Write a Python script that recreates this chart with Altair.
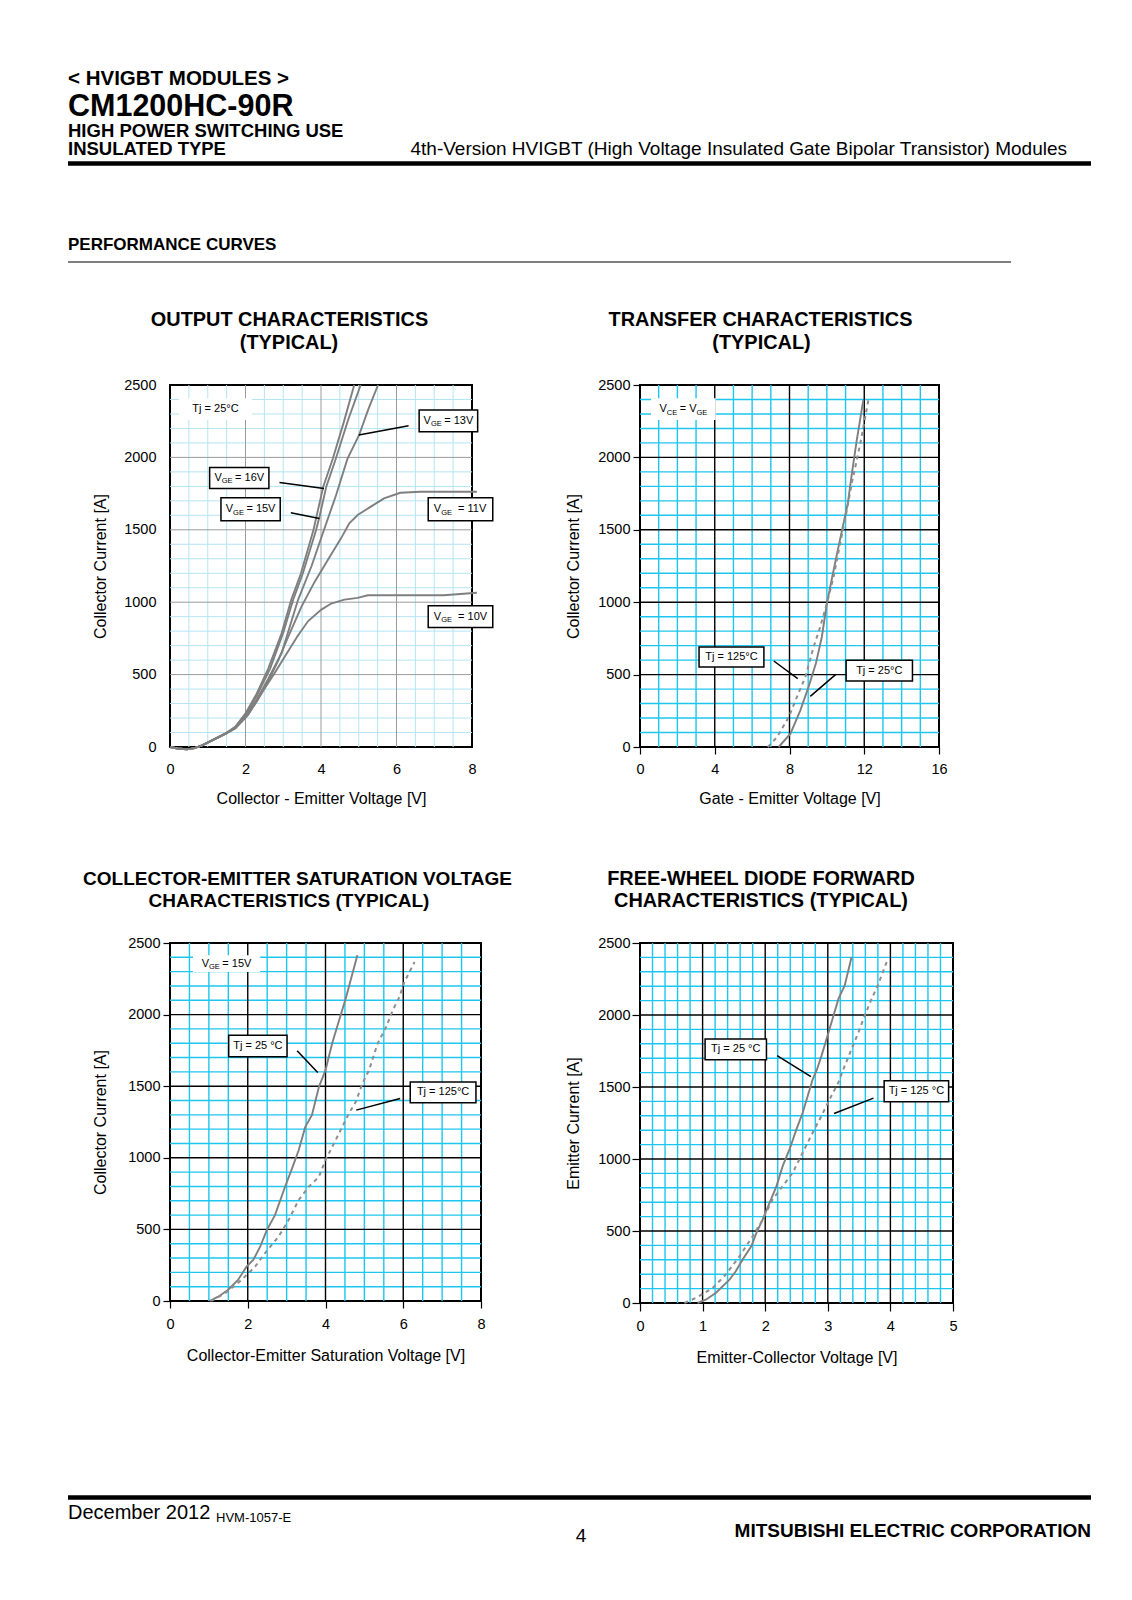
import altair as alt
import pandas as pd

FONT = "Liberation Sans"
CURVE = "#7f7f7f"
CURVE_HOT = "#8e8e8e"
CYAN = "#1cc6f0"
PALE = "#b4e4f4"
GRAYMAJ = "#9a9a9a"

# ---------------- values ----------------
# Output characteristics, Tj = 25 C  (VCE [V], IC [A])
OUT16_V = [0, 0.2, 0.45, 0.65, 0.85, 1.2, 1.46, 1.73, 2.0, 2.3, 2.6, 2.95, 3.21, 3.47, 3.8, 4.06, 4.31, 4.6, 4.88]
OUT16_I = [0, -10, -16, -8, 12, 58, 92, 140, 232, 370, 540, 780, 1015, 1200, 1499, 1798, 1989, 2240, 2500]
OUT15_V = [0, 0.2, 0.45, 0.65, 0.85, 1.2, 1.46, 1.73, 2.0, 2.3, 2.65, 3.0, 3.26, 3.52, 3.87, 3.96, 4.14, 4.39, 4.72, 5.05]
OUT15_I = [0, -10, -16, -8, 12, 58, 92, 138, 222, 355, 540, 790, 1015, 1200, 1499, 1590, 1798, 1989, 2260, 2500]
OUT13_V = [0, 0.2, 0.45, 0.65, 0.85, 1.2, 1.46, 1.73, 2.0, 2.3, 2.6, 2.96, 3.39, 3.75, 4.08, 4.4, 4.7, 5.01, 5.25, 5.51]
OUT13_I = [0, -10, -16, -8, 12, 56, 90, 134, 212, 330, 470, 650, 1015, 1250, 1500, 1740, 1990, 2155, 2330, 2500]
OUT11_V = [0, 0.2, 0.45, 0.65, 0.85, 1.2, 1.46, 1.73, 2.0, 2.3, 2.6, 2.87, 3.13, 3.48, 3.83, 4.18, 4.53, 4.75, 4.97, 5.32, 5.67, 6.1, 6.63, 8.13]
OUT11_I = [0, -10, -16, -8, 12, 56, 90, 132, 205, 315, 450, 600, 760, 968, 1140, 1291, 1441, 1545, 1602, 1660, 1717, 1756, 1763, 1763]
OUT10_V = [0, 0.2, 0.45, 0.65, 0.85, 1.2, 1.46, 1.73, 2.07, 2.42, 2.77, 3.03, 3.39, 3.66, 4.01, 4.27, 4.62, 4.97, 5.24, 7.25, 8.13]
OUT10_I = [0, -10, -16, -8, 12, 56, 88, 128, 222, 370, 510, 620, 770, 870, 949, 991, 1018, 1030, 1048, 1048, 1065]

# Transfer characteristics (VGE [V], IC [A])
TR25_V = [7.42, 8.05, 8.58, 9.02, 9.41, 9.73, 10.0, 10.36, 10.62, 10.89, 11.12, 11.35, 11.6, 11.95]
TR25_I = [0, 92, 253, 415, 576, 760, 991, 1221, 1382, 1544, 1682, 1900, 2120, 2396]
TR125_V = [6.84, 7.34, 7.96, 8.4, 8.85, 9.29, 9.64, 10.0, 10.36, 10.71, 11.07, 11.33, 11.6, 11.86, 12.22]
TR125_I = [0, 69, 207, 346, 484, 691, 829, 991, 1175, 1405, 1636, 1820, 1981, 2143, 2396]

# Collector-emitter saturation voltage (VCEsat [V], IC [A])
SAT25_V = [1.02, 1.24, 1.49, 1.75, 1.97, 2.14, 2.32, 2.49, 2.7, 2.96, 3.14, 3.31, 3.48, 3.65, 3.83, 4.0, 4.17, 4.35, 4.52, 4.6, 4.82]
SAT25_I = [0, 30, 77, 147, 240, 286, 379, 495, 600, 798, 926, 1053, 1216, 1298, 1495, 1612, 1798, 1960, 2112, 2193, 2414]
SAT125_V = [1.06, 1.41, 1.84, 2.19, 2.44, 2.79, 3.05, 3.31, 3.57, 3.83, 4.0, 4.26, 4.43, 4.6, 4.78, 4.95, 5.12, 5.34, 5.56, 5.73, 5.9, 6.03, 6.29]
SAT125_I = [0, 53, 147, 240, 333, 449, 565, 705, 798, 867, 984, 1123, 1216, 1309, 1391, 1519, 1612, 1798, 1914, 2030, 2123, 2228, 2367]

# Free-wheel diode forward characteristics (VEC [V], IE [A])
FWD25_V = [0.92, 1.05, 1.21, 1.43, 1.53, 1.64, 1.78, 1.86, 1.96, 2.07, 2.18, 2.28, 2.39, 2.5, 2.6, 2.68, 2.76, 2.82, 2.9, 2.98, 3.06, 3.17, 3.27, 3.38]
FWD25_I = [0, 23, 70, 162, 220, 302, 395, 487, 580, 696, 812, 952, 1068, 1207, 1323, 1439, 1555, 1613, 1718, 1834, 1950, 2112, 2205, 2403]
FWD125_V = [0.71, 0.89, 1.16, 1.37, 1.59, 1.8, 1.96, 2.12, 2.28, 2.44, 2.6, 2.76, 2.9, 3.03, 3.17, 3.25, 3.38, 3.49, 3.59, 3.7, 3.81, 3.94]
FWD125_I = [0, 35, 104, 197, 325, 464, 580, 720, 812, 905, 1045, 1184, 1300, 1416, 1532, 1625, 1764, 1880, 1996, 2112, 2217, 2368]

# ticks / grids
Y_TICKS = [0, 500, 1000, 1500, 2000, 2500]
Y_MINOR = [v for v in range(100, 2500, 100) if v % 500]
Y_MAJOR = [500, 1000, 1500, 2000]
P1_XTICKS = [0, 2, 4, 6, 8]
P2_XTICKS = [0, 4, 8, 12, 16]
P3_XTICKS = [0, 2, 4, 6, 8]
P4_XTICKS = [0, 1, 2, 3, 4, 5]
HALF_V = [k / 2 for k in range(1, 16) if k % 4]
ONE_V = [k for k in range(1, 16) if k % 4]
FIFTH_V = [k / 5 for k in range(1, 25) if k % 5]

# texts
T_HEAD = ["< HVIGBT MODULES >", "CM1200HC-90R", "HIGH POWER SWITCHING USE", "INSULATED TYPE",
          "4th-Version HVIGBT (High Voltage Insulated Gate Bipolar Transistor) Modules",
          "PERFORMANCE CURVES"]
T_TITLES = ["OUTPUT CHARACTERISTICS", "(TYPICAL)", "TRANSFER CHARACTERISTICS", "(TYPICAL)",
            "COLLECTOR-EMITTER SATURATION VOLTAGE", "CHARACTERISTICS (TYPICAL)",
            "FREE-WHEEL DIODE FORWARD", "CHARACTERISTICS (TYPICAL)"]
T_FOOT = ["December 2012", "HVM-1057-E", "4", "MITSUBISHI ELECTRIC CORPORATION"]

ARIAL = {" ": 278, "=": 584, "V": 667, "G": 778, "E": 667, "C": 722, "T": 611, "j": 222, "\u00b0": 400}


def tw(s, size):
    return sum(ARIAL.get(c, 556) for c in s) * size / 1000.0


def curves_df(series):
    rows = []
    for name, vs, is_ in series:
        for k, (v, i) in enumerate(zip(vs, is_)):
            rows.append({"s": name, "v": v, "i": i, "k": k})
    return pd.DataFrame(rows)


def piece_rows(box, pieces, xdom, W, H):
    """pieces: list of (text, fontsize, is_sub, gap_after_px). Centred in box."""
    x1, x2, y1, y2 = box
    cx, cy = (x1 + x2) / 2, (y1 + y2) / 2
    xs = (xdom[1] - xdom[0]) / W
    ys = 2500.0 / H
    total = sum(tw(t, fs) + g for t, fs, sub, g in pieces)
    acc = -total / 2
    out = []
    for t, fs, sub, g in pieces:
        out.append({"x": cx + acc * xs, "y": cy - (3.5 if sub else 0) * ys, "t": t, "fs": fs})
        acc += tw(t, fs) + g
    return out


def panel(W, H, xdom, xticks, xminor, xmajor, minor_col, major_col, gw,
          solid, dashed, plain, boxes, leaders,
          xtitle, ytitle, xt_y, yt_x, tick, xpad, ypad):
    xs = alt.Scale(domain=xdom, nice=False, zero=False)
    ys = alt.Scale(domain=[0, 2500], nice=False, zero=False)
    xaxis = alt.Axis(values=xticks, format="d", grid=False, domain=False, ticks=tick > 0, tickSize=tick,
                     tickColor="black", tickWidth=1.2, labelPadding=xpad, labelBaseline="middle",
                     labelFontSize=14.5, labelColor="black", labelFont=FONT, labelFlush=False,
                     labelOverlap=False, title=xtitle, titleFontSize=16, titleFontWeight="normal",
                     titleColor="black", titleFont=FONT, titleX=W / 2, titleY=xt_y,
                     titleBaseline="middle", titleAlign="center")
    yaxis = alt.Axis(values=Y_TICKS, format="d", grid=False, domain=False, ticks=tick > 0, tickSize=tick,
                     tickColor="black", tickWidth=1.2, labelPadding=ypad, labelFontSize=14.5,
                     labelColor="black", labelFont=FONT, labelFlush=False, labelOverlap=False,
                     title=ytitle, titleFontSize=16, titleFontWeight="normal", titleColor="black",
                     titleFont=FONT, titleAngle=270, titleX=yt_x, titleY=H / 2,
                     titleBaseline="middle", titleAlign="center")
    X = lambda f: alt.X(f, type="quantitative", scale=xs, axis=xaxis)
    Y = lambda f: alt.Y(f, type="quantitative", scale=ys, axis=yaxis)

    layers = [
        alt.Chart(pd.DataFrame({"v": xminor})).mark_rule(color=minor_col, strokeWidth=gw).encode(x=X("v")),
        alt.Chart(pd.DataFrame({"i": Y_MINOR})).mark_rule(color=minor_col, strokeWidth=gw).encode(y=Y("i")),
        alt.Chart(pd.DataFrame({"v": xmajor})).mark_rule(color=major_col, strokeWidth=gw).encode(x=X("v")),
        alt.Chart(pd.DataFrame({"i": Y_MAJOR})).mark_rule(color=major_col, strokeWidth=gw).encode(y=Y("i")),
    ]
    texts = []
    pb = []
    for box, pieces in plain:
        pb.append(dict(zip(["x1", "x2", "y1", "y2"], box)))
        texts += piece_rows(box, pieces, xdom, W, H)
    bb = []
    for box, pieces in boxes:
        bb.append(dict(zip(["x1", "x2", "y1", "y2"], box)))
        texts += piece_rows(box, pieces, xdom, W, H)
    if pb:
        layers.append(alt.Chart(pd.DataFrame(pb)).mark_rect(fill="white").encode(
            x=X("x1"), x2="x2:Q", y=Y("y1"), y2="y2:Q"))

    layers.append(alt.Chart(curves_df(solid)).mark_line(strokeWidth=1.9, color=CURVE).encode(
        x=X("v"), y=Y("i"), detail="s:N", order=alt.Order("k:Q")))
    if dashed:
        layers.append(alt.Chart(curves_df(dashed)).mark_line(strokeWidth=2, color=CURVE_HOT,
                                                             strokeDash=[4, 4]).encode(
            x=X("v"), y=Y("i"), detail="s:N", order=alt.Order("k:Q")))
    ld = [dict(zip(["x1", "y1", "x2", "y2"], l)) for l in leaders]
    layers.append(alt.Chart(pd.DataFrame(ld)).mark_rule(color="black", strokeWidth=1.5).encode(
        x=X("x1"), y=Y("y1"), x2="x2:Q", y2="y2:Q"))
    if bb:
        layers.append(alt.Chart(pd.DataFrame(bb)).mark_rect(fill="white", stroke="black", strokeWidth=1.5).encode(
            x=X("x1"), x2="x2:Q", y=Y("y1"), y2="y2:Q"))
    layers.append(alt.Chart(pd.DataFrame(texts)).mark_text(align="left", baseline="middle", font=FONT,
                                                            color="black").encode(
        x=X("x"), y=Y("y"), text="t:N", size=alt.Size("fs:Q", scale=None)))
    return alt.layer(*layers).properties(width=W, height=H,
                                         view=alt.ViewBackground(stroke="black", strokeWidth=2))


def vge(val, gap=2.5):
    return [("V", 11, False, 0), ("GE", 7.5, True, gap), ("= " + val, 11, False, 0)]


p1 = panel(302, 362, [0, 8], P1_XTICKS, HALF_V, [2, 4, 6], PALE, GRAYMAJ, 1,
           [("16", OUT16_V, OUT16_I), ("15", OUT15_V, OUT15_I), ("13", OUT13_V, OUT13_I),
            ("11", OUT11_V, OUT11_I), ("10", OUT10_V, OUT10_I)], [],
           [((0.24, 2.17, 2258, 2408), [("Tj = 25\u00b0C", 11, False, 0)])],
           [((6.6, 8.15, 2177, 2327), vge("13V")),
            ((1.05, 2.62, 1786, 1931), vge("16V")),
            ((1.35, 2.92, 1562, 1721), vge("15V")),
            ((6.84, 8.55, 1562, 1721), vge("11V", 6)),
            ((6.84, 8.55, 825, 975), vge("10V", 6))],
           [(6.32, 2219, 5.0, 2154), (2.9, 1827, 4.08, 1786), (3.2, 1617, 3.96, 1578)],
           "Collector - Emitter Voltage [V]", "Collector Current [A]", 51, -70, 0, 22, 14)

p2 = panel(299, 362, [0, 16], P2_XTICKS, ONE_V, [4, 8, 12], CYAN, "black", 1.4,
           [("25", TR25_V, TR25_I)], [("125", TR125_V, TR125_I)],
           [((0.59, 4.05, 2258, 2408), [("V", 11, False, 0), ("CE", 7.5, True, 2.5), ("= V", 11, False, 0),
                                        ("GE", 7.5, True, 0)])],
           [((3.16, 6.63, 553, 691), [("Tj = 125\u00b0C", 11, False, 0)]),
            ((11.03, 14.58, 456, 599), [("Tj = 25\u00b0C", 11, False, 0)])],
           [(7.16, 594, 8.44, 472), (10.48, 502, 9.11, 350)],
           "Gate - Emitter Voltage [V]", "Collector Current [A]", 51, -67, 7, 15, 3)

p3 = panel(311, 358, [0, 8], P3_XTICKS, HALF_V, [2, 4, 6], CYAN, "black", 1.4,
           [("25", SAT25_V, SAT25_I)], [("125", SAT125_V, SAT125_I)],
           [((0.59, 2.32, 2298, 2414), vge("15V"))],
           [((1.51, 3.01, 1705, 1856), [("Tj = 25 \u00b0C", 11, False, 0)]),
            ((6.18, 7.87, 1384, 1530), [("Tj = 125\u00b0C", 11, False, 0)])],
           [(3.27, 1747, 3.8, 1595), (5.92, 1414, 4.79, 1333)],
           "Collector-Emitter Saturation Voltage [V]", "Collector Current [A]", 54, -70, 7, 16, 3)

p4 = panel(313, 360, [0, 5], P4_XTICKS, FIFTH_V, [1, 2, 3, 4], CYAN, "black", 1.4,
           [("25", FWD25_V, FWD25_I)], [("125", FWD125_V, FWD125_I)],
           [],
           [((1.04, 2.02, 1690, 1834), [("Tj = 25 \u00b0C", 11, False, 0)]),
            ((3.9, 4.93, 1397, 1544), [("Tj = 125 \u00b0C", 11, False, 0)])],
           [(2.19, 1718, 2.73, 1572), (3.73, 1423, 3.1, 1316)],
           "Emitter-Collector Voltage [V]", "Emitter Current [A]", 54, -67, 8, 15, 2)


# ---------------- page furniture ----------------
def ptext(s, x, y, size, weight="normal", align="left"):
    return alt.Chart(pd.DataFrame({"t": [s]})).mark_text(
        align=align, baseline="alphabetic", fontSize=size, fontWeight=weight, font=FONT, color="black"
    ).encode(x=alt.value(x - 8), y=alt.value(y - 8), text="t:N")


def prule(x1, x2, y, w):
    return alt.Chart(pd.DataFrame({"a": [0]})).mark_rule(color="black", strokeWidth=w).encode(
        x=alt.value(x1 - 8), x2=alt.value(x2 - 8), y=alt.value(y - 8))


header_layers = [
    ptext(T_HEAD[0], 68, 85, 20.5, "bold"),
    ptext(T_HEAD[1], 68, 116, 30.5, "bold"),
    ptext(T_HEAD[2], 68, 136.5, 18.5, "bold"),
    ptext(T_HEAD[3], 68, 155, 18.5, "bold"),
    ptext(T_HEAD[4], 1067, 155, 19, "normal", "right"),
    ptext(T_HEAD[5], 68, 250, 17, "bold"),
    prule(68, 1091, 163.5, 4.5),
    prule(68, 1011, 262, 1),
    ptext(T_TITLES[0], 289.5, 326, 19.9, "bold", "center"),
    ptext(T_TITLES[1], 289, 349, 19.9, "bold", "center"),
    ptext(T_TITLES[2], 760.5, 326, 19.9, "bold", "center"),
    ptext(T_TITLES[3], 761.5, 349, 19.9, "bold", "center"),
    ptext(T_TITLES[4], 297.5, 885, 19, "bold", "center"),
    ptext(T_TITLES[5], 289, 907, 19, "bold", "center"),
    ptext(T_TITLES[6], 761, 885, 19.9, "bold", "center"),
    ptext(T_TITLES[7], 761, 907, 19.9, "bold", "center"),
    prule(68, 1091, 1497.5, 4.5),
    ptext(T_FOOT[0], 68, 1519, 20),
    ptext(T_FOOT[1], 216, 1522, 13),
    ptext(T_FOOT[2], 581, 1542, 19, "normal", "center"),
    ptext(T_FOOT[3], 1091, 1537, 19, "bold", "right"),
]
header = alt.layer(*header_layers).properties(width=162, height=377, view=alt.ViewBackground(fill="white"))


def spacer(w, h):
    return alt.Chart(pd.DataFrame({"a": [0]})).mark_point(opacity=0, size=1).encode(
        x=alt.value(3), y=alt.value(3)).properties(width=w, height=h)


cells = [
    header, spacer(1, 1), spacer(1, 1), spacer(1, 1),
    spacer(162, 362), p1, spacer(159, 362), p2,
    spacer(1, 196), spacer(1, 1), spacer(1, 1), spacer(1, 1),
    spacer(162, 358), p3, spacer(159, 358), p4,
]

chart = alt.concat(*cells, columns=4, spacing=0, bounds="flush",
                   align=alt.RowColLayoutAlign(row="each", column="each")).properties(
    padding=0, background="white"
).configure(font=FONT).configure_view(strokeWidth=0)

chart.save("out.html", embed_options={"renderer": "svg", "actions": False})
